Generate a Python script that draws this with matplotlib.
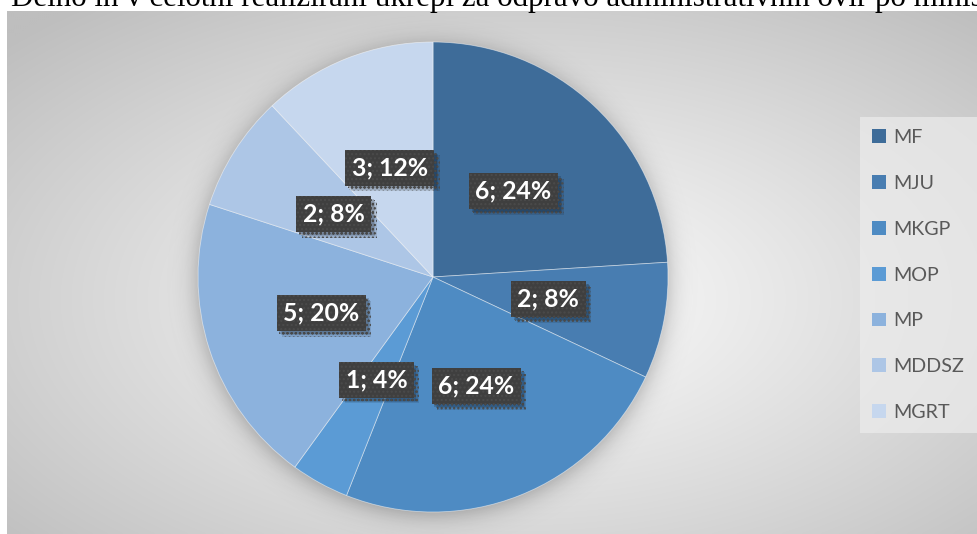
import numpy as np
import matplotlib
matplotlib.use("Agg")
import matplotlib.pyplot as plt
from matplotlib.patches import Patch
import matplotlib.patheffects as pe

# Data: measures implemented, by ministry
ministries = ["MF", "MJU", "MKGP", "MOP", "MP", "MDDSZ", "MGRT"]
counts = [6, 2, 6, 1, 5, 2, 3]
colors = ["#3E6C99", "#487DB1", "#4E8BC3", "#5B9BD5", "#8CB2DD", "#ADC6E6", "#C6D7EE"]
title = "Delno in v celotni realizirani ukrepi za odpravo administrativnih ovir po ministrstvih"

W, H, DPI = 978, 534, 100
fig = plt.figure(figsize=(W / DPI, H / DPI), dpi=DPI, facecolor="white")

# Grey radial-gradient chart area
bg = fig.add_axes([7 / W, 0, 1 - 7 / W, (H - 11) / H])
bg.set_axis_off()
ny, nx = 262, 486
yy, xx = np.mgrid[0:ny, 0:nx]
cx, cy = nx * 0.53, ny * 0.55
r = np.sqrt(((xx - cx) / (nx * 0.5)) ** 2 + ((yy - cy) / (ny * 0.5)) ** 2)
r = np.clip(r / 1.45, 0, 1)
val = (252 - 62 * r ** 1.1) / 255.0
img = np.dstack([val, val, val])
bg.imshow(img, aspect="auto", extent=[0, 1, 0, 1], origin="upper", interpolation="bilinear")
bg.set_xlim(0, 1)
bg.set_ylim(0, 1)

# Title (runs past the figure edges)
fig.text(11 / W, 1 - 6 / H, title, ha="left", va="baseline",
         fontsize=22.3, family="Liberation Serif", color="black")

# Pie axes
pcx, pcy, R = 433, 277, 235
ax = fig.add_axes([(pcx - R) / W, (H - pcy - R) / H, 2 * R / W, 2 * R / H])
ax.set_axis_off()

# Soft shadow under the pie
g = np.linspace(-1.3, 1.3, 400)
gx, gy = np.meshgrid(g, g)
d = np.sqrt(gx ** 2 + (gy + 0.015) ** 2)
sh = 0.32 / (1 + np.exp((d - 1.0) / 0.03))
shadow = np.zeros((400, 400, 4))
shadow[..., 3] = sh
ax.imshow(shadow, extent=[-1.3, 1.3, -1.3, 1.3], origin="lower", zorder=0,
          interpolation="bilinear", clip_on=False)

total = sum(counts)
wedges, texts = ax.pie(counts, colors=colors, startangle=90, counterclock=False,
                       radius=1.0, labels=None,
                       wedgeprops=dict(edgecolor=(1, 1, 1, 0.5), linewidth=0.6, zorder=2))
ax.set_xlim(-1, 1)
ax.set_ylim(-1, 1)

# Data labels: "value; percent" at half radius
theta0 = 90.0
cum = 0
for v in counts:
    mid = np.deg2rad(theta0 - 360.0 * (cum + v / 2) / total)
    cum += v
    x, y = 0.5 * np.cos(mid), 0.5 * np.sin(mid)
    t = ax.text(x, y, f"{v}; {round(100 * v / total)}%", ha="center", va="center",
                fontsize=17.8, family="Lato", fontweight="bold", color="white", zorder=5,
                bbox=dict(boxstyle="square,pad=0.26", fc="#3f3f3f", ec="#4b4b4b",
                          lw=0, hatch="...."))
    t.get_bbox_patch().set_path_effects([
        pe.SimplePatchShadow(offset=(4, -4), shadow_rgbFace="black", alpha=0.10),
        pe.SimplePatchShadow(offset=(3, -3), shadow_rgbFace="black", alpha=0.12),
        pe.SimplePatchShadow(offset=(2, -2), shadow_rgbFace="black", alpha=0.15),
        pe.Normal(),
    ])

# Legend
handles = [Patch(facecolor=c, edgecolor="none") for c in colors]
leg = fig.legend(handles, ministries, loc="upper left",
                 bbox_to_anchor=(860 / W, 1 - 117 / H), frameon=True, fancybox=False,
                 facecolor="#ececec", edgecolor="none", framealpha=0.7,
                 prop=dict(family="Lato", size=14.2), labelcolor="#595959",
                 handlelength=0.71, handleheight=0.71, handletextpad=0.37,
                 labelspacing=1.46, borderpad=0.62, borderaxespad=0)

fig.savefig("out.png", dpi=DPI, facecolor="white")
